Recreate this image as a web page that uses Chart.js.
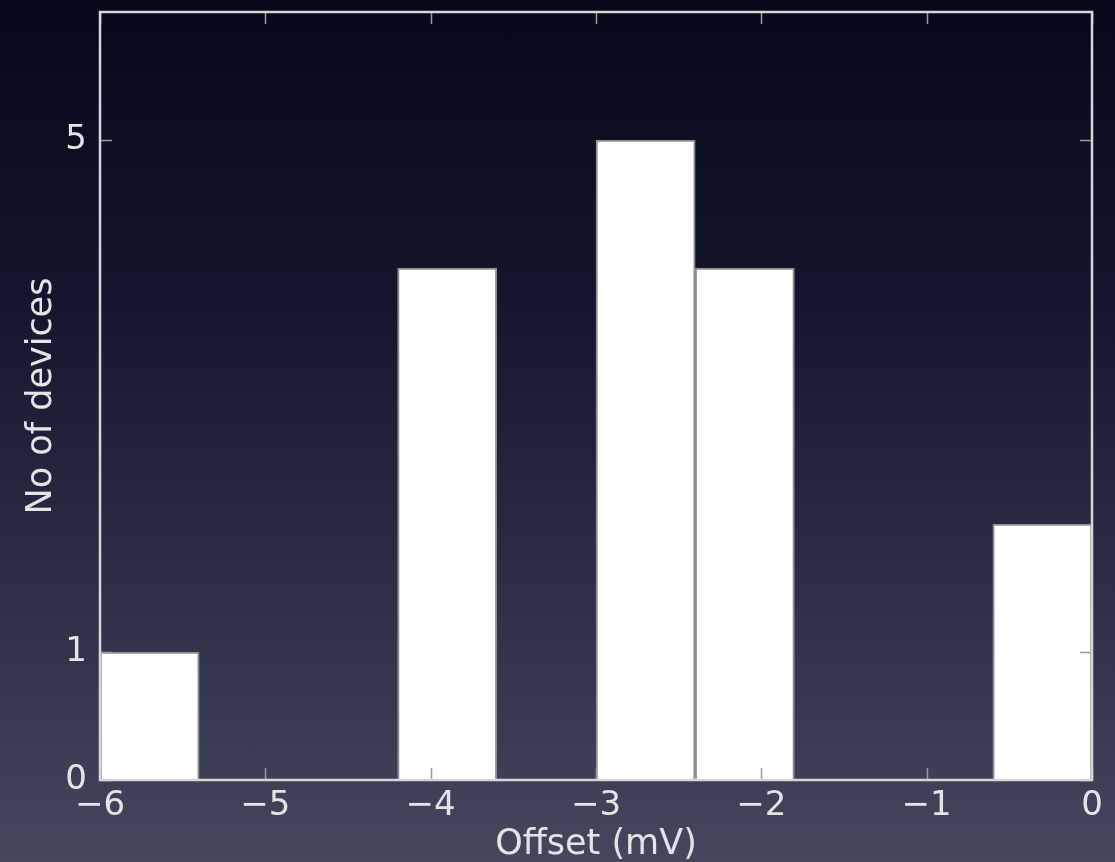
<!DOCTYPE html>
<html>
<head>
<meta charset="utf-8">
<script src="https://cdn.jsdelivr.net/npm/chart.js@4"></script>
<style>
  html, body { margin: 0; padding: 0; }
  body {
    width: 1115px; height: 862px; overflow: hidden;
    background: linear-gradient(to bottom, #060819 0%, #14162d 35%, #2e3048 70%, #45475d 100%);
  }
  #wrap { width: 1115px; height: 862px; }
</style>
</head>
<body>
<div id="wrap"><canvas id="chart"></canvas></div>
<script>
// histogram bins (left edges, width 0.6 mV) and counts
const binEdges = [-6, -5.4, -4.8, -4.2, -3.6, -3.0, -2.4, -1.8, -1.2, -0.6]
const binWidth = 0.6
const counts = [1, 0, 0, 4, 0, 5, 4, 0, 0, 2]
const xTicks = [-6, -5, -4, -3, -2, -1, 0]
const yTicks = [0, 1, 5]

const textColor = '#e4e4e8'
const fontFamily = '"DejaVu Sans", sans-serif'

const points = binEdges.map((e, i) => ({ x: e + binWidth / 2, y: counts[i] }))

// frame + inward tick marks, matplotlib style
const frame = {
  id: 'frame',
  afterDatasetsDraw(chart) {
    const { ctx, chartArea: a, scales } = chart
    ctx.save()
    ctx.strokeStyle = '#9a9aa0'
    ctx.lineWidth = 1.5
    ctx.beginPath()
    xTicks.forEach(v => {
      const px = Math.round(scales.x.getPixelForValue(v)) + 0.5
      ctx.moveTo(px, a.bottom); ctx.lineTo(px, a.bottom - 12)
      ctx.moveTo(px, a.top); ctx.lineTo(px, a.top + 12)
    })
    yTicks.forEach(v => {
      const py = Math.round(scales.y.getPixelForValue(v)) + 0.5
      ctx.moveTo(a.left, py); ctx.lineTo(a.left + 12, py)
      ctx.moveTo(a.right, py); ctx.lineTo(a.right - 12, py)
    })
    ctx.stroke()
    ctx.strokeStyle = '#d6d6da'
    ctx.lineWidth = 2.5
    ctx.strokeRect(a.left, a.top, a.right - a.left, a.bottom - a.top)
    ctx.restore()
  }
}

const chart = document.getElementById('chart')

new Chart(chart, {
  type: 'bar',
  data: {
    datasets: [{
      data: points,
      backgroundColor: '#ffffff',
      borderColor: '#8e8e92',
      borderWidth: 2,
      barPercentage: 1,
      categoryPercentage: 1
    }]
  },
  options: {
    responsive: true,
    maintainAspectRatio: false,
    animation: false,
    layout: { padding: { top: 12, right: 23, left: 0, bottom: 0 } },
    plugins: { legend: { display: false }, tooltip: { enabled: false } },
    scales: {
      x: {
        type: 'linear',
        min: -6,
        max: 0,
        offset: false,
        afterBuildTicks: s => { s.ticks = xTicks.map(v => ({ value: v })) },
        afterFit: s => { s.height = 82 },
        grid: { display: false, drawTicks: false },
        border: { display: false },
        ticks: {
          color: textColor,
          font: { family: fontFamily, size: 34 },
          padding: 6,
          maxRotation: 0,
          callback: v => v < 0 ? '\u2212' + Math.abs(v) : String(v)
        },
        title: {
          display: true,
          text: 'Offset (mV)',
          color: textColor,
          font: { family: fontFamily, size: 35, lineHeight: 1 },
          padding: { top: 0, bottom: 0 }
        }
      },
      y: {
        min: 0,
        max: 6,
        afterBuildTicks: s => { s.ticks = yTicks.map(v => ({ value: v })) },
        afterFit: s => { s.width = 100; s.paddingTop = 0; s.paddingBottom = 0 },
        grid: { display: false, drawTicks: false },
        border: { display: false },
        ticks: {
          color: textColor,
          font: { family: fontFamily, size: 34 },
          padding: 13
        },
        title: {
          display: true,
          text: 'No of devices',
          color: textColor,
          font: { family: fontFamily, size: 35 },
          padding: { top: 21, bottom: 0 }
        }
      }
    }
  },
  plugins: [frame]
})
</script>
</body>
</html>
